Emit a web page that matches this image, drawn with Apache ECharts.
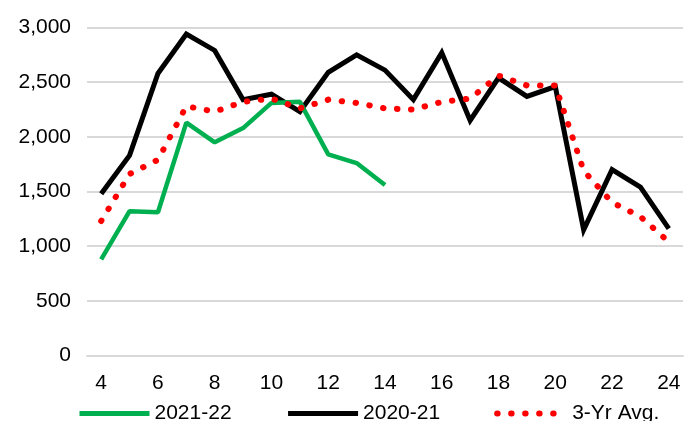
<!DOCTYPE html>
<html>
<head>
<meta charset="utf-8">
<script src="https://cdn.jsdelivr.net/npm/echarts@6/dist/echarts.min.js"></script>
<style>
    html, body {margin: 0; padding: 0; background: #fff;}
    #chart {width: 697px; height: 421px;}
</style>
</head>
<body>
<div id="chart"></div>
<script>
// week numbers on the x axis
var weeks = ['4', '5', '6', '7', '8', '9', '10', '11', '12', '13', '14', '15', '16', '17', '18', '19', '20', '21', '22', '23', '24'];

// series values
var season2122 = [880, 1320, 1310, 2130, 1950, 2080, 2310, 2320, 1840, 1760, 1560];
var season2021 = [1480, 1830, 2580, 2940, 2790, 2340, 2390, 2230, 2590, 2750, 2610, 2340, 2770, 2150, 2540, 2370, 2460, 1150, 1700, 1540, 1160];
var avg3yr = [1230, 1660, 1790, 2280, 2230, 2320, 2350, 2260, 2340, 2310, 2260, 2250, 2320, 2350, 2560, 2470, 2470, 1690, 1400, 1270, 1040];

var seriesNames = ['2021-22', '2020-21', '3-Yr Avg.'];

var labelFont = '"Liberation Sans", Arial, sans-serif';

var myChart = echarts.init(document.getElementById('chart'));

var option = {
    animation: false,
    backgroundColor: '#ffffff',
    grid: {
        left: 87,
        right: 14,
        top: 27.5,
        bottom: 65.5
    },
    legend: {
        data: [
            {name: seriesNames[0], lineStyle: {width: 5}},
            {name: seriesNames[1], lineStyle: {width: 5}},
            {name: seriesNames[2], lineStyle: {width: 6, type: [0.5, 13.5], cap: 'round'}}
        ],
        left: 72,
        top: 398,
        itemWidth: 70,
        itemHeight: 20,
        itemGap: 54,
        itemStyle: {opacity: 0},
        textStyle: {
            fontFamily: labelFont,
            fontSize: 21,
            color: '#000'
        }
    },
    xAxis: {
        type: 'category',
        data: weeks,
        boundaryGap: true,
        axisLine: {lineStyle: {color: '#d9d9d9', width: 2}},
        axisTick: {show: false},
        axisLabel: {
            interval: 1,
            margin: 17,
            color: '#000',
            fontFamily: labelFont,
            fontSize: 21
        }
    },
    yAxis: {
        type: 'value',
        min: 0,
        max: 3000,
        interval: 500,
        axisLine: {show: false},
        axisTick: {show: false},
        splitLine: {lineStyle: {color: '#d9d9d9', width: 2}},
        axisLabel: {
            margin: 16,
            color: '#000',
            fontFamily: labelFont,
            fontSize: 21,
            formatter: function (v) {
                return v.toLocaleString('en-US');
            }
        }
    },
    series: [
        {
            name: '2020-21',
            type: 'line',
            data: season2021,
            symbol: 'none',
            z: 2,
            lineStyle: {color: '#000000', width: 5, join: 'miter'},
            itemStyle: {color: '#000000'}
        },
        {
            name: '2021-22',
            type: 'line',
            data: season2122,
            symbol: 'none',
            z: 3,
            lineStyle: {color: '#00b050', width: 4.5},
            itemStyle: {color: '#00b050'}
        },
        {
            name: '3-Yr Avg.',
            type: 'line',
            data: avg3yr,
            symbol: 'none',
            z: 4,
            lineStyle: {color: '#ff0000', width: 6, type: [0.5, 13.5], cap: 'round'},
            itemStyle: {color: '#ff0000'}
        }
    ]
};

myChart.setOption(option);
</script>
</body>
</html>
